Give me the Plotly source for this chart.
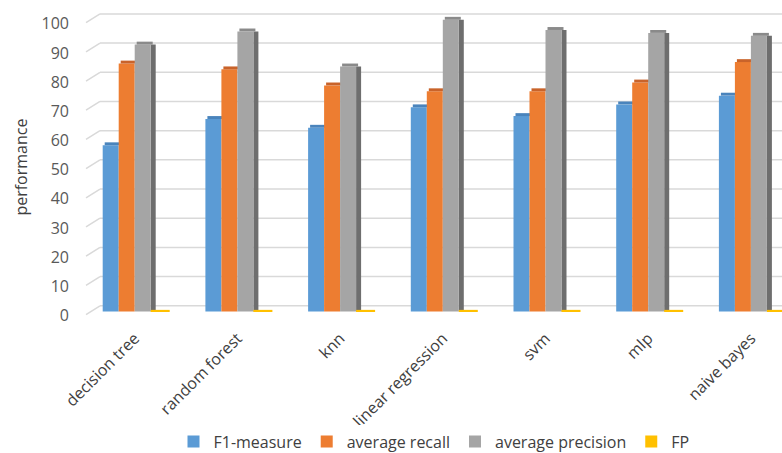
import plotly.graph_objects as go

# Classifier comparison data
classifiers = ["decision tree", "random forest", "knn", "linear regression",
               "svm", "mlp", "naive bayes"]
f1_measure = [57, 66, 63, 70, 67, 71, 74]
average_recall = [85, 83, 77.5, 75.5, 75.5, 78.5, 85.5]
average_precision = [91.5, 96, 84, 100, 96.5, 95.5, 94.5]
fp = [0.6, 0.6, 0.6, 0.6, 0.6, 0.6, 0.6]
y_ticks = [0, 10, 20, 30, 40, 50, 60, 70, 80, 90, 100]

W, H = 782, 453
ML, MR, MT, MB = 86, 0, 11, 137
PLOT_W = W - ML - MR
PLOT_H = H - MT - MB
CAT_PX = 102.7                 # pixels per category
U = 1.0 / CAT_PX               # one pixel in category units
BW = 16 * U                    # bar width
Y0, Y1 = -1.5, 103

BLUE, ORANGE, GRAY, GOLD = "#5B9BD5", "#ED7D31", "#A5A5A5", "#FFC000"
TXT = "#404040"
FONT = "Open Sans"

fig = go.Figure()

# darker right-hand faces of the precision bars (pseudo 3D)
fig.add_trace(go.Bar(x=classifiers, y=average_precision, offset=BW, width=5 * U,
                     marker=dict(color="#6E6E6E", line_width=0),
                     showlegend=False, hoverinfo="skip"))

series = [
    ("F1-measure", f1_measure, BLUE, "#4A84BC", -2 * BW),
    ("average recall", average_recall, ORANGE, "#C9632A", -BW),
    ("average precision", average_precision, GRAY, "#8A8A8A", 0),
]
for name, vals, col, cap, off in series:
    fig.add_trace(go.Bar(name=name, x=classifiers, y=vals, offset=off, width=BW,
                         marker=dict(color=col, line_width=0)))
    # thin top face of each column
    fig.add_trace(go.Bar(x=classifiers, y=[1.0] * len(vals), base=vals,
                         offset=off + 2 * U, width=BW,
                         marker=dict(color=cap, line_width=0),
                         showlegend=False, hoverinfo="skip"))

fig.add_trace(go.Bar(name="FP", x=classifiers, y=fp, offset=BW, width=19 * U,
                     marker=dict(color=GOLD, line_width=0)))

# back-wall gridlines with a short slanted lead-in on the left
shapes = []
x_wall = 14 / PLOT_W
for v in y_ticks:
    shapes.append(dict(type="line", xref="paper", yref="y", x0=x_wall, x1=1,
                       y0=v + 2, y1=v + 2, line=dict(color="#D9D9D9", width=1.5),
                       layer="below"))
    shapes.append(dict(type="line", xref="paper", yref="y", x0=0, x1=x_wall,
                       y0=v - 1, y1=v + 2, line=dict(color="#D9D9D9", width=1.5),
                       layer="below"))

fig.update_layout(
    width=W, height=H,
    margin=dict(l=ML, r=MR, t=MT, b=MB, pad=0, autoexpand=False),
    paper_bgcolor="white", plot_bgcolor="white",
    barmode="overlay",
    font=dict(family=FONT, size=16, color=TXT),
    shapes=shapes,
    xaxis=dict(range=[-48.7 / CAT_PX, -48.7 / CAT_PX + PLOT_W / CAT_PX],
               tickangle=-45, showgrid=False, showline=False, zeroline=False,
               ticks="", ticklabelstandoff=9, automargin=False,
               tickfont=dict(family=FONT, size=16, color=TXT),
               fixedrange=True),
    yaxis=dict(range=[Y0, Y1], tickvals=y_ticks, showgrid=False, zeroline=False,
               showline=False, ticks="", ticklabelstandoff=16, automargin=False,
               ticklabelshift=4,
               tickfont=dict(family=FONT, size=16, color="#595959"),
               fixedrange=True),
    legend=dict(orientation="h", x=(434 - ML) / PLOT_W, xanchor="center",
                y=(316.4 - 442) / PLOT_H, yanchor="middle",
                font=dict(family=FONT, size=16, color=TXT),
                itemwidth=30, traceorder="normal"),
    annotations=[dict(text="performance", xref="paper", yref="paper",
                      x=(21 - ML) / PLOT_W, y=(316.4 - 168) / PLOT_H,
                      xanchor="center", yanchor="middle",
                      textangle=-90, showarrow=False,
                      font=dict(family=FONT, size=16, color=TXT))],
)

fig.write_html("out.html")
